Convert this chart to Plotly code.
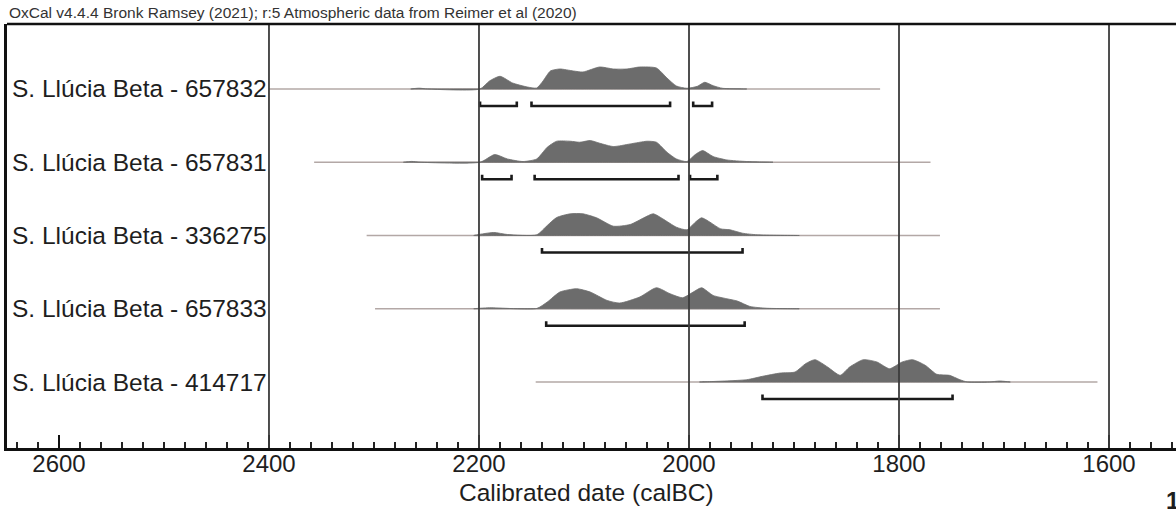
import plotly.graph_objects as go

# ---------------- data ----------------
labels = [
    "S. Llúcia Beta - 657832",
    "S. Llúcia Beta - 657831",
    "S. Llúcia Beta - 336275",
    "S. Llúcia Beta - 657833",
    "S. Llúcia Beta - 414717",
]
row_pos = [5, 4, 3, 2, 1]

# extent of the thin line (calBC)
line_start = [2400, 2357, 2307, 2299, 2146]
line_end = [1818, 1770, 1761, 1761, 1611]

# probability distributions (year calBC, relative height)
dens_years_832 = [2265, 2257, 2249, 2199, 2190, 2180, 2168, 2154, 2145, 2139, 2132, 2123, 2110, 2101, 2085,
                  2072, 2059, 2047, 2031, 2021, 2012, 2002, 1992, 1985, 1977, 1968, 1945]
dens_vals_832 = [0, 0.8, 0, 0, 8, 12.7, 6, 2, 1, 8, 18, 20, 18, 17, 22,
                 20, 20, 22, 21, 11, 3, 0.7, 2.7, 6.7, 3.3, 0.7, 0]

dens_years_831 = [2272, 2264, 2256, 2199, 2185, 2173, 2158, 2145, 2135, 2126, 2113, 2104, 2094, 2085,
                  2072, 2056, 2040, 2031, 2021, 2012, 2002, 1994, 1987, 1977, 1964, 1945, 1920]
dens_vals_831 = [0, 0.8, 0, 0, 7.7, 3.3, 0.7, 3.3, 15, 21, 21, 20, 21.7, 19,
                 15.7, 18.3, 21, 20, 10, 3.3, 0.7, 7.7, 11.7, 5.7, 2.3, 0.7, 0]

dens_years_275 = [2205, 2186, 2173, 2145, 2135, 2126, 2113, 2101, 2088, 2072, 2056, 2043, 2034, 2025,
                  2012, 2002, 1994, 1988, 1980, 1970, 1961, 1949, 1935, 1895]
dens_vals_275 = [0, 3, 1, 0.7, 10, 18, 21.7, 21.7, 17.7, 9.3, 11, 17.7, 21.7, 16.7,
                 8.3, 5.7, 13.3, 17.7, 13.3, 6.7, 5.7, 2.3, 0.7, 0]

dens_years_833 = [2205, 2190, 2145, 2135, 2123, 2107, 2094, 2078, 2066, 2047, 2031, 2018, 2006, 1996,
                  1988, 1977, 1964, 1954, 1942, 1926, 1895]
dens_vals_833 = [0, 1, 0.3, 6.7, 16.7, 20, 16.7, 8.3, 5.7, 11.7, 21, 15, 11, 16.7,
                 21, 13.3, 10, 7.7, 2.3, 0.5, 0]

dens_years_717 = [1990, 1977, 1945, 1930, 1913, 1899, 1889, 1880, 1868, 1856, 1847, 1834, 1821, 1809,
                  1797, 1787, 1775, 1764, 1752, 1742, 1735, 1714, 1704, 1694]
dens_vals_717 = [0, 0.5, 2.3, 5.7, 9, 10, 18.3, 22.3, 15, 6.7, 15, 22.3, 20, 13.3,
                 20, 22.3, 16.7, 7.7, 6.7, 2.3, 0, 0, 1, 0]

dens_years = [dens_years_832, dens_years_831, dens_years_275, dens_years_833, dens_years_717]
dens_vals = [dens_vals_832, dens_vals_831, dens_vals_275, dens_vals_833, dens_vals_717]

# 95.4% ranges (from, to) calBC
ranges_832 = [(2199, 2164), (2150, 2018), (1996, 1978)]
ranges_831 = [(2197, 2169), (2147, 2010), (1999, 1973)]
ranges_275 = [(2140, 1949)]
ranges_833 = [(2136, 1947)]
ranges_717 = [(1930, 1749)]
ranges = [ranges_832, ranges_831, ranges_275, ranges_833, ranges_717]

grid_years = [2400, 2200, 2000, 1800, 1600]

header = "OxCal v4.4.4 Bronk Ramsey (2021); r:5 Atmospheric data from Reimer et al (2020)"
x_title = "Calibrated date (calBC)"

# ---------------- styling constants ----------------
PX = 73.25            # pixels per row unit
DENS_SCALE = 1.0 / PX  # density px -> row units
BAR_OFF = 17 / PX
TICK_H = 4.5 / PX
FONT = "Liberation Sans, Arial, Helvetica, sans-serif"

fig = go.Figure()

for i in range(len(labels)):
    base = row_pos[i]
    # baseline thin line
    fig.add_trace(go.Scatter(
        x=[line_start[i], line_end[i]], y=[base, base], mode="lines",
        line=dict(color="#b3a8a6", width=1.6), hoverinfo="skip", showlegend=False))
    # distribution
    xs = dens_years[i]
    ys = [base + v * DENS_SCALE for v in dens_vals[i]]
    fig.add_trace(go.Scatter(
        x=xs + xs[::-1], y=ys + [base] * len(xs), mode="lines", fill="toself",
        fillcolor="#6c6c6c", line=dict(color="#6c6c6c", width=0.8, shape="spline", smoothing=0.6),
        hoverinfo="skip", showlegend=False))
    # range brackets
    bx, by = [], []
    yb = base - BAR_OFF
    for a, b in ranges[i]:
        bx += [a, a, b, b, None]
        by += [yb + TICK_H, yb, yb, yb + TICK_H, None]
    fig.add_trace(go.Scatter(
        x=bx, y=by, mode="lines", line=dict(color="#1a1a1a", width=2.6),
        hoverinfo="skip", showlegend=False))
    # label
    fig.add_annotation(
        x=0.0026, xref="paper", y=base, yref="y", text=labels[i], showarrow=False,
        xanchor="left", yanchor="middle", font=dict(family=FONT, size=24.5, color="#1e1e1e"))

# vertical grid lines
for g in grid_years:
    fig.add_shape(type="line", xref="x", yref="paper", x0=g, x1=g, y0=0, y1=1,
                  line=dict(color="#3c3c3c", width=1.8), layer="above")

# top border
fig.add_shape(type="line", xref="paper", yref="paper", x0=0, x1=1, y0=1, y1=1,
              line=dict(color="#111111", width=2.5), layer="above")

fig.add_annotation(x=0, xref="paper", y=1.0, yref="paper", yshift=1, text=header, showarrow=False,
                   xanchor="left", yanchor="bottom", font=dict(family=FONT, size=15.5, color="#333333"))
fig.add_annotation(x=0.496, xref="paper", y=-0.106, yref="paper", text=x_title, showarrow=False,
                   xanchor="center", yanchor="middle", font=dict(family=FONT, size=24.5, color="#1e1e1e"))
fig.add_annotation(x=0.9895, xref="paper", y=-0.123, yref="paper", text="<b>1</b>", showarrow=False,
                   xanchor="left", yanchor="middle", font=dict(family=FONT, size=24, color="#1e1e1e"))

fig.update_layout(
    width=1176, height=512,
    margin=dict(l=7, r=0, t=24, b=64),
    paper_bgcolor="white", plot_bgcolor="white",
    xaxis=dict(
        range=[2649.5, 1536.2], tick0=1600, dtick=200,
        ticks="inside", ticklen=13, tickwidth=2, tickcolor="#111111",
        ticklabelstandoff=-8,
        showgrid=False, zeroline=False,
        showline=True, linecolor="#111111", linewidth=2.6,
        tickfont=dict(family=FONT, size=24, color="#1e1e1e"),
        minor=dict(dtick=20, tick0=1600, ticks="inside", ticklen=6, tickwidth=1.5, tickcolor="#222222"),
    ),
    yaxis=dict(
        range=[0.099, 5.887], showticklabels=False, ticks="", showgrid=False, zeroline=False,
        showline=True, linecolor="#111111", linewidth=2.5,
    ),
)

fig.write_html("out.html", config={"displayModeBar": False},
               post_script="document.body.style.margin='0';document.body.style.overflow='hidden';")
